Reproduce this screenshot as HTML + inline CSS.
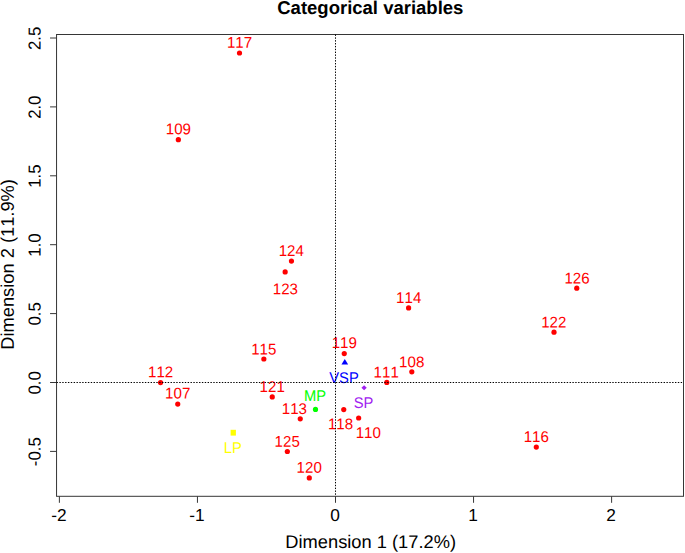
<!DOCTYPE html>
<html><head><meta charset="utf-8"><title>Categorical variables</title>
<style>html,body{margin:0;padding:0;background:#fff;}svg{display:block;}text{font-family:"Liberation Sans",sans-serif;text-rendering:geometricPrecision;font-kerning:none;}</style></head><body>
<svg width="685" height="553" viewBox="0 0 685 553">
<rect width="685" height="553" fill="#fff"/>
<rect x="56.55" y="34.5" width="626.95" height="461.80" fill="none" stroke="#363636" stroke-width="1"/>
<line x1="59.38" y1="496.3" x2="59.38" y2="502.8" stroke="#363636" stroke-width="1"/>
<text x="58.9" y="520.6" font-size="17.3" text-anchor="middle" fill="#000">-2</text>
<line x1="197.44" y1="496.3" x2="197.44" y2="502.8" stroke="#363636" stroke-width="1"/>
<text x="196.9" y="520.6" font-size="17.3" text-anchor="middle" fill="#000">-1</text>
<line x1="335.50" y1="496.3" x2="335.50" y2="502.8" stroke="#363636" stroke-width="1"/>
<text x="335.0" y="520.6" font-size="17.3" text-anchor="middle" fill="#000">0</text>
<line x1="473.56" y1="496.3" x2="473.56" y2="502.8" stroke="#363636" stroke-width="1"/>
<text x="473.1" y="520.6" font-size="17.3" text-anchor="middle" fill="#000">1</text>
<line x1="611.62" y1="496.3" x2="611.62" y2="502.8" stroke="#363636" stroke-width="1"/>
<text x="611.1" y="520.6" font-size="17.3" text-anchor="middle" fill="#000">2</text>
<line x1="50.05" y1="451.40" x2="56.55" y2="451.40" stroke="#363636" stroke-width="1"/>
<text transform="translate(40.6,451.7) rotate(-89.95) scale(0.97,1)" font-size="17.3" text-anchor="middle" fill="#000">-0.5</text>
<line x1="50.05" y1="382.50" x2="56.55" y2="382.50" stroke="#363636" stroke-width="1"/>
<text transform="translate(40.6,382.8) rotate(-89.95) scale(0.97,1)" font-size="17.3" text-anchor="middle" fill="#000">0.0</text>
<line x1="50.05" y1="313.60" x2="56.55" y2="313.60" stroke="#363636" stroke-width="1"/>
<text transform="translate(40.6,313.9) rotate(-89.95) scale(0.97,1)" font-size="17.3" text-anchor="middle" fill="#000">0.5</text>
<line x1="50.05" y1="244.70" x2="56.55" y2="244.70" stroke="#363636" stroke-width="1"/>
<text transform="translate(40.6,245.0) rotate(-89.95) scale(0.97,1)" font-size="17.3" text-anchor="middle" fill="#000">1.0</text>
<line x1="50.05" y1="175.80" x2="56.55" y2="175.80" stroke="#363636" stroke-width="1"/>
<text transform="translate(40.6,176.1) rotate(-89.95) scale(0.97,1)" font-size="17.3" text-anchor="middle" fill="#000">1.5</text>
<line x1="50.05" y1="106.90" x2="56.55" y2="106.90" stroke="#363636" stroke-width="1"/>
<text transform="translate(40.6,107.2) rotate(-89.95) scale(0.97,1)" font-size="17.3" text-anchor="middle" fill="#000">2.0</text>
<line x1="50.05" y1="38.00" x2="56.55" y2="38.00" stroke="#363636" stroke-width="1"/>
<text transform="translate(40.6,38.3) rotate(-89.95) scale(0.97,1)" font-size="17.3" text-anchor="middle" fill="#000">2.5</text>
<text x="370.3" y="14" font-size="18.5" font-weight="bold" text-anchor="middle" fill="#000">Categorical variables</text>
<text x="370.7" y="547.7" font-size="18.3" text-anchor="middle" fill="#000">Dimension 1 (17.2%)</text>
<text transform="translate(13.7,264.4) rotate(-89.97)" font-size="18.3" text-anchor="middle" fill="#000">Dimension 2 (11.9%)</text>
<circle cx="239.5" cy="53.0" r="2.6" fill="#ff0000"/>
<text transform="translate(239.5,47.7) rotate(0.05) scale(0.975,1)" font-size="15.5" text-anchor="middle" fill="#ff0000">117</text>
<circle cx="178.35" cy="139.7" r="2.6" fill="#ff0000"/>
<text transform="translate(178.4,134.3) rotate(0.05) scale(0.975,1)" font-size="15.5" text-anchor="middle" fill="#ff0000">109</text>
<circle cx="291.45" cy="261.1" r="2.6" fill="#ff0000"/>
<text transform="translate(291.3,256.0) rotate(0.05) scale(0.975,1)" font-size="15.5" text-anchor="middle" fill="#ff0000">124</text>
<circle cx="285.15" cy="271.9" r="2.6" fill="#ff0000"/>
<text transform="translate(285.4,294.3) rotate(0.05) scale(0.975,1)" font-size="15.5" text-anchor="middle" fill="#ff0000">123</text>
<circle cx="263.85" cy="359.0" r="2.6" fill="#ff0000"/>
<text transform="translate(263.8,354.5) rotate(0.05) scale(0.975,1)" font-size="15.5" text-anchor="middle" fill="#ff0000">115</text>
<circle cx="160.55" cy="382.6" r="2.6" fill="#ff0000"/>
<text transform="translate(160.6,377.2) rotate(0.05) scale(0.975,1)" font-size="15.5" text-anchor="middle" fill="#ff0000">112</text>
<circle cx="177.75" cy="404.1" r="2.6" fill="#ff0000"/>
<text transform="translate(177.7,398.5) rotate(0.05) scale(0.975,1)" font-size="15.5" text-anchor="middle" fill="#ff0000">107</text>
<circle cx="272.25" cy="396.9" r="2.6" fill="#ff0000"/>
<text transform="translate(272.2,392.0) rotate(0.05) scale(0.975,1)" font-size="15.5" text-anchor="middle" fill="#ff0000">121</text>
<circle cx="300.25" cy="418.8" r="2.6" fill="#ff0000"/>
<text transform="translate(294.4,414.0) rotate(0.05) scale(0.975,1)" font-size="15.5" text-anchor="middle" fill="#ff0000">113</text>
<circle cx="287.35" cy="451.5" r="2.6" fill="#ff0000"/>
<text transform="translate(287.2,446.75) rotate(0.05) scale(0.975,1)" font-size="15.5" text-anchor="middle" fill="#ff0000">125</text>
<circle cx="309.3" cy="477.9" r="2.6" fill="#ff0000"/>
<text transform="translate(309.2,472.7) rotate(0.05) scale(0.975,1)" font-size="15.5" text-anchor="middle" fill="#ff0000">120</text>
<circle cx="344.25" cy="353.6" r="2.6" fill="#ff0000"/>
<text transform="translate(344.3,347.9) rotate(0.05) scale(0.975,1)" font-size="15.5" text-anchor="middle" fill="#ff0000">119</text>
<circle cx="386.8" cy="382.4" r="2.6" fill="#ff0000"/>
<text transform="translate(386.2,377.6) rotate(0.05) scale(0.975,1)" font-size="15.5" text-anchor="middle" fill="#ff0000">111</text>
<circle cx="411.8" cy="371.8" r="2.6" fill="#ff0000"/>
<text transform="translate(411.7,367.3) rotate(0.05) scale(0.975,1)" font-size="15.5" text-anchor="middle" fill="#ff0000">108</text>
<circle cx="343.75" cy="409.6" r="2.6" fill="#ff0000"/>
<text transform="translate(340.5,429.25) rotate(0.05) scale(0.975,1)" font-size="15.5" text-anchor="middle" fill="#ff0000">118</text>
<circle cx="358.65" cy="418.0" r="2.6" fill="#ff0000"/>
<text transform="translate(368.3,438.0) rotate(0.05) scale(0.975,1)" font-size="15.5" text-anchor="middle" fill="#ff0000">110</text>
<circle cx="408.6" cy="307.9" r="2.6" fill="#ff0000"/>
<text transform="translate(408.7,302.9) rotate(0.05) scale(0.975,1)" font-size="15.5" text-anchor="middle" fill="#ff0000">114</text>
<circle cx="576.75" cy="288.2" r="2.6" fill="#ff0000"/>
<text transform="translate(577.0,283.5) rotate(0.05) scale(0.975,1)" font-size="15.5" text-anchor="middle" fill="#ff0000">126</text>
<circle cx="554.0" cy="332.2" r="2.6" fill="#ff0000"/>
<text transform="translate(553.8,327.5) rotate(0.05) scale(0.975,1)" font-size="15.5" text-anchor="middle" fill="#ff0000">122</text>
<circle cx="536.3" cy="447.05" r="2.6" fill="#ff0000"/>
<text transform="translate(536.3,442.0) rotate(0.05) scale(0.975,1)" font-size="15.5" text-anchor="middle" fill="#ff0000">116</text>
<circle cx="315.5" cy="409.4" r="2.6" fill="#00ff00"/>
<text transform="translate(315.0,401) rotate(0.05) scale(0.95,1)" font-size="15.5" text-anchor="middle" fill="#00ff00">MP</text>
<rect x="230.6" y="429.8" width="5.3" height="5.8" fill="#ffff00"/>
<text transform="translate(232.8,453) rotate(0.05) scale(0.95,1)" font-size="15.5" text-anchor="middle" fill="#ffff00">LP</text>
<path d="M344.8 359.1 L348.15 364.5 L341.45 364.5 Z" fill="#0000ff"/>
<text transform="translate(344.0,383) rotate(0.05) scale(0.95,1)" font-size="15.5" text-anchor="middle" fill="#0000ff">VSP</text>
<path d="M364.1 385.2 L366.75 387.7 L364.1 390.2 L361.45 387.7 Z" fill="#a020f0"/>
<text transform="translate(363.6,408) rotate(0.05) scale(0.95,1)" font-size="15.5" text-anchor="middle" fill="#a020f0">SP</text>
<line x1="56.55" y1="382.5" x2="683.5" y2="382.5" stroke="#000" stroke-width="1" stroke-dasharray="1.4 1.45"/>
<line x1="335.5" y1="34.5" x2="335.5" y2="496.3" stroke="#000" stroke-width="1" stroke-dasharray="1.4 1.45"/>
</svg></body></html>
